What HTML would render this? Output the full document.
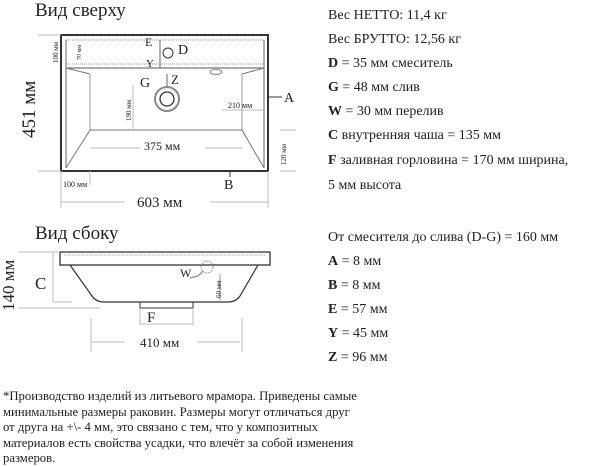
<!DOCTYPE html>
<html><head><meta charset="utf-8"><style>
html,body{margin:0;padding:0;background:#fff;}
svg{display:block;}
text{font-family:"Liberation Serif",serif;fill:#222;}
</style></head><body>
<svg width="600" height="466" viewBox="0 0 600 466" xmlns="http://www.w3.org/2000/svg">
<text x="35" y="16" font-size="19">Вид сверху</text>
<text x="35" y="239" font-size="19">Вид сбоку</text>
<g stroke="#333" fill="none">
<rect x="61" y="35" width="207" height="136" stroke-width="2"/>
<line x1="66" y1="40" x2="264" y2="40" stroke-dasharray="1,1" stroke="#999"/>
<line x1="66" y1="64" x2="264" y2="64" stroke-dasharray="1,1" stroke="#999"/>
<line x1="66" y1="40" x2="66" y2="168" stroke="#666"/>
<line x1="264" y1="40" x2="264" y2="168" stroke="#666"/>
<line x1="66" y1="68" x2="264" y2="68" stroke="#555"/>
<line x1="66" y1="68" x2="90" y2="74" stroke="#777"/>
<line x1="264" y1="68" x2="242" y2="74" stroke="#777"/>
<line x1="90" y1="74" x2="90" y2="130" stroke="#999"/>
<line x1="242" y1="74" x2="242" y2="130" stroke="#999"/>
<line x1="90" y1="130" x2="242" y2="130" stroke="#777"/>
<line x1="90" y1="130" x2="66" y2="168" stroke="#777"/>
<line x1="242" y1="130" x2="264" y2="168" stroke="#777"/>
<circle cx="168" cy="53" r="5"/>
<circle cx="167" cy="99" r="12" stroke="#888" stroke-width="2"/>
<circle cx="167" cy="99" r="7" stroke-width="1.3"/>
<ellipse cx="216" cy="72" rx="6" ry="2.5" stroke="#888"/>
<line x1="160" y1="40" x2="160" y2="68" stroke="#666"/>
<line x1="167" y1="74" x2="167" y2="86" stroke="#666"/>
<line x1="38" y1="35" x2="61" y2="35" stroke="#bbb"/>
<line x1="38" y1="171" x2="61" y2="171" stroke="#bbb"/>
<line x1="268" y1="97" x2="282" y2="97"/>
<line x1="280" y1="130" x2="296" y2="130" stroke="#bbb"/>
<line x1="280" y1="171" x2="296" y2="171" stroke="#bbb"/>
<line x1="230" y1="171" x2="230" y2="177"/>
<line x1="90" y1="148" x2="140" y2="148" stroke="#bbb"/>
<line x1="205" y1="148" x2="242" y2="148" stroke="#bbb"/>
<line x1="61" y1="202" x2="125" y2="202" stroke="#bbb"/>
<line x1="210" y1="202" x2="268" y2="202" stroke="#bbb"/>
<line x1="61" y1="171" x2="61" y2="208" stroke="#bbb"/>
<line x1="268" y1="171" x2="268" y2="208" stroke="#bbb"/>
<line x1="90" y1="171" x2="90" y2="185" stroke="#bbb"/>
<line x1="133" y1="85" x2="133" y2="130" stroke="#bbb"/>
<line x1="222" y1="110" x2="264" y2="110" stroke="#bbb"/>
</g>
<text x="145" y="46" font-size="12">E</text>
<text x="178" y="54" font-size="14">D</text>
<text x="146" y="67" font-size="11">Y</text>
<text x="140" y="87" font-size="14">G</text>
<text x="171" y="84" font-size="13">Z</text>
<text x="284" y="102" font-size="14">A</text>
<text x="224" y="189" font-size="14">B</text>
<text x="228" y="108" font-size="8">210 мм</text>
<text x="144" y="150" font-size="12">375 мм</text>
<text x="63" y="187" font-size="8">100 мм</text>
<text x="137" y="207" font-size="15">603 мм</text>
<text transform="translate(35,138) rotate(-90)" font-size="19">451 мм</text>
<text transform="translate(58,63) rotate(-90)" font-size="7">100 мм</text>
<text transform="translate(81,60) rotate(-90)" font-size="6">70 мм</text>
<text transform="translate(131,121) rotate(-90)" font-size="7">190 мм</text>
<text transform="translate(286,165) rotate(-90)" font-size="7">120 мм</text>
<g stroke="#333" fill="none">
<rect x="60" y="252" width="210" height="13" stroke-width="1.3"/>
<line x1="64" y1="255" x2="266" y2="255" stroke="#aaa" stroke-dasharray="1.5,1"/>
<path d="M70,265 L92,296 Q96,302 104,302 L228,302 Q236,302 240,296 L258,265" stroke-width="1.2"/>
<rect x="140" y="302" width="53" height="6"/>
<circle cx="207" cy="267" r="6" stroke="#999" stroke-dasharray="2,1"/>
<path d="M190,278 L198,276 L203,271" stroke="#777"/>
<line x1="220" y1="274" x2="220" y2="300" stroke="#999"/>
<line x1="18" y1="252" x2="60" y2="252" stroke="#bbb"/>
<line x1="18" y1="308" x2="100" y2="308" stroke="#bbb"/>
<line x1="53" y1="252" x2="53" y2="302" stroke="#bbb"/>
<line x1="53" y1="302" x2="72" y2="302" stroke="#bbb"/>
<line x1="140" y1="308" x2="140" y2="325" stroke="#bbb"/>
<line x1="193" y1="308" x2="193" y2="325" stroke="#bbb"/>
<line x1="140" y1="324" x2="193" y2="324" stroke="#bbb"/>
<line x1="91" y1="318" x2="91" y2="352" stroke="#bbb"/>
<line x1="242" y1="318" x2="242" y2="352" stroke="#bbb"/>
<line x1="92" y1="342" x2="125" y2="342" stroke="#bbb"/>
<line x1="197" y1="342" x2="240" y2="342" stroke="#bbb"/>
</g>
<text x="35" y="289" font-size="17">C</text>
<text x="147" y="322" font-size="15">F</text>
<text x="180" y="277" font-size="12">W</text>
<text x="140" y="347" font-size="13">410 мм</text>
<text transform="translate(14,311) rotate(-90)" font-size="17">140 мм</text>
<text transform="translate(221,298) rotate(-90)" font-size="7">60 мм</text>
<g font-size="14">
<text x="328" y="19">Вес НЕТТО: 11,4 кг</text>
<text x="328" y="43">Вес БРУТТО: 12,56 кг</text>
<text x="328" y="67"><tspan font-weight="bold">D</tspan> = 35 мм смеситель</text>
<text x="328" y="91"><tspan font-weight="bold">G</tspan> = 48 мм слив</text>
<text x="328" y="115"><tspan font-weight="bold">W</tspan> = 30 мм перелив</text>
<text x="328" y="139"><tspan font-weight="bold">C</tspan> внутренняя чаша = 135 мм</text>
<text x="328" y="164"><tspan font-weight="bold">F</tspan> заливная горловина = 170 мм ширина,</text>
<text x="328" y="189">5 мм высота</text>
<text x="328" y="241">От смесителя до слива (D-G) = 160 мм</text>
<text x="328" y="265"><tspan font-weight="bold">A</tspan> = 8 мм</text>
<text x="328" y="289"><tspan font-weight="bold">B</tspan> = 8 мм</text>
<text x="328" y="313"><tspan font-weight="bold">E</tspan> = 57 мм</text>
<text x="328" y="337"><tspan font-weight="bold">Y</tspan> = 45 мм</text>
<text x="328" y="361"><tspan font-weight="bold">Z</tspan> = 96 мм</text>
</g>
<g font-size="12.7">
<text x="3" y="400">*Производство изделий из литьевого мрамора. Приведены самые</text>
<text x="3" y="416">минимальные размеры раковин. Размеры могут отличаться друг</text>
<text x="3" y="431">от друга на +\- 4 мм, это связано с тем, что у композитных</text>
<text x="3" y="447">материалов есть свойства усадки, что влечёт за собой изменения</text>
<text x="3" y="462">размеров.</text>
</g>
</svg>
</body></html>
